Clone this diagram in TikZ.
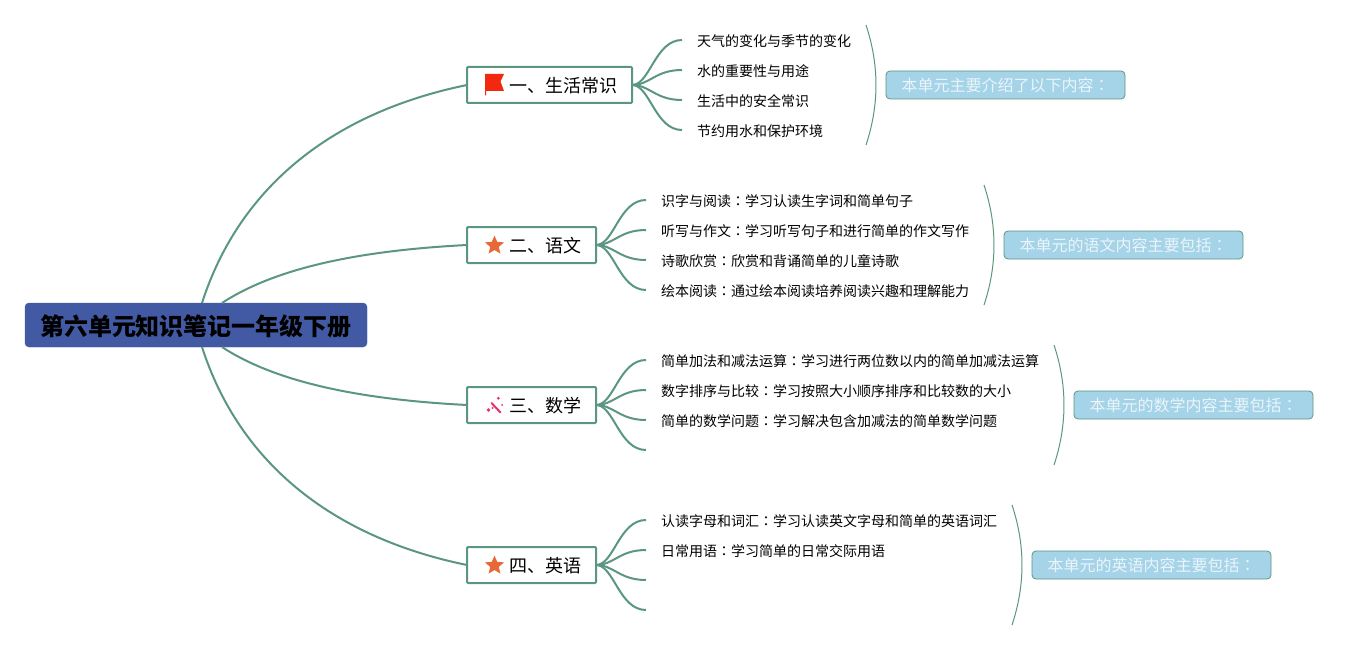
\documentclass[tikz,border=0pt]{standalone}
\usepackage{fontspec}
\setmainfont{Noto Sans CJK SC}
\newfontfamily\tcfont{Noto Sans CJK TC}
\newcommand{\cn}{{\tcfont ：}}
\usetikzlibrary{shapes.geometric}
\definecolor{linec}{HTML}{5B9681}
\definecolor{rootc}{HTML}{4259A3}
\definecolor{callc}{HTML}{A5D3E8}
\definecolor{calltxt}{HTML}{EAF5FA}
\definecolor{starc}{HTML}{E66A38}
\definecolor{flagc}{HTML}{F2280F}
\definecolor{wandc}{HTML}{EC2A70}
\tikzset{
  rootbox/.style={fill=rootc,draw=rootc,rounded corners=4pt,minimum width=342pt,minimum height=44pt,inner sep=0pt,outer sep=0pt,
    font=\fontsize{24}{24}\selectfont\bfseries,text=black,text height=22pt,text depth=0.5pt,anchor=center},
  branchbox/.style={draw=linec,line width=2pt,fill=white,rounded corners=1pt,minimum height=36pt,inner ysep=0pt,inner xsep=15pt,outer sep=0pt,
    font=\fontsize{18}{18}\selectfont,text=black,text height=16.5pt,text depth=1.5pt,anchor=west},
  leaftxt/.style={inner ysep=0pt,inner xsep=15pt,outer sep=0pt,anchor=west,font=\fontsize{14}{14}\selectfont,text=black,text height=14pt,text depth=0.6pt},
  callout/.style={draw=linec,line width=0.8pt,fill=callc,rounded corners=4pt,minimum height=28pt,inner ysep=0pt,outer sep=0pt,inner xsep=15.5pt,anchor=west,
    font=\fontsize{16}{16}\selectfont,text=calltxt,text height=14.5pt,text depth=1.5pt},
  mainline/.style={draw=linec,line width=2pt},
  subline/.style={draw=linec,line width=2pt},
  braceline/.style={draw=linec,line width=1pt},
  stariconn/.style={star,star points=5,star point ratio=2.2,fill=starc,minimum size=20pt,inner sep=0pt},
}
\newcommand{\subcurve}[2]{\draw[subline] (#1.east) .. controls +(18,0) and +(-27,0) .. (#2);}
\newcommand{\bracecurve}[2]{\draw[braceline] (#1) .. controls +(13.3,40) and +(13.3,-40) .. (#2);}
\begin{document}
\begin{tikzpicture}[x=1pt,y=-1pt]
\useasboundingbox (0,0) rectangle (1358,650);
\fill[white] (0,0) rectangle (1358,650);

% root and branches
\node[rootbox] (root) at (196,325) {第六单元知识笔记一年级下册};
\node[branchbox] (b1) at (467,85) {\hspace*{27pt}一、生活常识};
\node[branchbox] (b2) at (467,245) {\hspace*{27pt}二、语文};
\node[branchbox] (b3) at (467,405) {\hspace*{27pt}三、数学};
\node[branchbox] (b4) at (467,565) {\hspace*{27pt}四、英语};

\draw[mainline] ([xshift=6pt]root.north) .. controls (240,185) and (335,112) .. (b1.west);
\draw[mainline] ([xshift=26pt]root.north) .. controls (280,265) and (370,250) .. (b2.west);
\draw[mainline] ([xshift=26pt]root.south) .. controls (280,385) and (370,400) .. (b3.west);
\draw[mainline] ([xshift=6pt]root.south) .. controls (240,465) and (335,538) .. (b4.west);

% icons
\fill[flagc] (485,74) -- (504,74) -- (500.5,81.5) -- (504,91) -- (486,91) -- (486,95.5) -- (485,95.5) -- cycle;
\node[stariconn] (s2) at (494.5,245.5) {};
\node[stariconn] (s4) at (494.5,565.5) {};
\draw[wandc,line width=2pt,line cap=round] (491.5,403) -- (500.5,412.5);
\fill[wandc] (498.3,398.3) circle (1.5pt) (488.5,410) circle (1.9pt) (492.5,408) circle (1.2pt) (502,405) circle (1pt);

% leaves, group 1
\node[leaftxt] (l11) at (682,40) {天气的变化与季节的变化};
\node[leaftxt] (l12) at (682,70) {水的重要性与用途};
\node[leaftxt] (l13) at (682,100) {生活中的安全常识};
\node[leaftxt] (l14) at (682,130) {节约用水和保护环境};
\subcurve{b1}{l11.west}\subcurve{b1}{l12.west}\subcurve{b1}{l13.west}\subcurve{b1}{l14.west}

% leaves, group 2
\node[leaftxt] (l21) at (646,200) {识字与阅读\cn 学习认读生字词和简单句子};
\node[leaftxt] (l22) at (646,230) {听写与作文\cn 学习听写句子和进行简单的作文写作};
\node[leaftxt] (l23) at (646,260) {诗歌欣赏\cn 欣赏和背诵简单的儿童诗歌};
\node[leaftxt] (l24) at (646,290) {绘本阅读\cn 通过绘本阅读培养阅读兴趣和理解能力};
\subcurve{b2}{l21.west}\subcurve{b2}{l22.west}\subcurve{b2}{l23.west}\subcurve{b2}{l24.west}

% leaves, group 3
\node[leaftxt] (l31) at (646,360) {简单加法和减法运算\cn 学习进行两位数以内的简单加减法运算};
\node[leaftxt] (l32) at (646,390) {数字排序与比较\cn 学习按照大小顺序排序和比较数的大小};
\node[leaftxt] (l33) at (646,420) {简单的数学问题\cn 学习解决包含加减法的简单数学问题};
\coordinate (l34) at (646,450);
\subcurve{b3}{l31.west}\subcurve{b3}{l32.west}\subcurve{b3}{l33.west}\subcurve{b3}{l34}

% leaves, group 4
\node[leaftxt] (l41) at (646,520) {认读字母和词汇\cn 学习认读英文字母和简单的英语词汇};
\node[leaftxt] (l42) at (646,550) {日常用语\cn 学习简单的日常交际用语};
\coordinate (l43) at (646,580);
\coordinate (l44) at (646,610);
\subcurve{b4}{l41.west}\subcurve{b4}{l42.west}\subcurve{b4}{l43}\subcurve{b4}{l44}

% summary braces
\coordinate (u1) at (866,25); \coordinate (v1) at (866,145);
\coordinate (u2) at (984,185); \coordinate (v2) at (984,305);
\coordinate (u3) at (1054,345); \coordinate (v3) at (1054,465);
\coordinate (u4) at (1012,505); \coordinate (v4) at (1012,625);
\bracecurve{u1}{v1}\bracecurve{u2}{v2}\bracecurve{u3}{v3}\bracecurve{u4}{v4}

% callouts
\node[callout] (c1) at (886,85) {本单元主要介绍了以下内容\cn};
\node[callout] (c2) at (1004,245) {本单元的语文内容主要包括\cn};
\node[callout] (c3) at (1074,405) {本单元的数学内容主要包括\cn};
\node[callout] (c4) at (1032,565) {本单元的英语内容主要包括\cn};
\end{tikzpicture}
\end{document}
